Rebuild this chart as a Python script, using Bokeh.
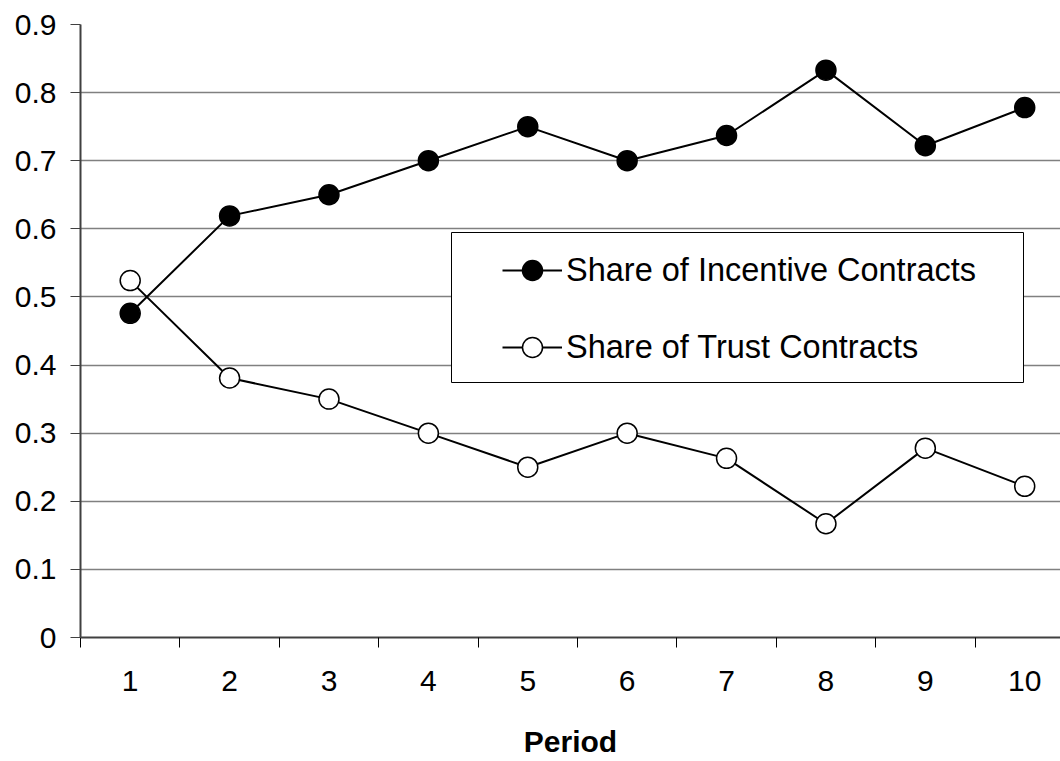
from bokeh.plotting import figure
from bokeh.models import Range1d, FixedTicker, Legend, LegendItem, ColumnDataSource, BoxAnnotation
from bokeh.embed import file_html
from bokeh.resources import INLINE

# ---- data ----
periods = [1, 2, 3, 4, 5, 6, 7, 8, 9, 10]
x_tick_labels = ["1", "2", "3", "4", "5", "6", "7", "8", "9", "10"]
incentive = [0.476, 0.619, 0.650, 0.700, 0.750, 0.700, 0.737, 0.833, 0.722, 0.778]
trust = [0.524, 0.381, 0.350, 0.300, 0.250, 0.300, 0.263, 0.167, 0.278, 0.222]
y_ticks = [0, 0.1, 0.2, 0.3, 0.4, 0.5, 0.6, 0.7, 0.8, 0.9]
y_tick_labels = ["0", "0.1", "0.2", "0.3", "0.4", "0.5", "0.6", "0.7", "0.8", "0.9"]
series_names = ["Share of Incentive Contracts", "Share of Trust Contracts"]
x_title = "Period"

FONT = "Liberation Sans"

src = ColumnDataSource(dict(x=periods, inc=incentive, tru=trust))
category_edges = [p - 0.5 for p in periods]

p = figure(width=1060, height=761,
           x_range=Range1d(0.5, 10.36), y_range=Range1d(0, 0.9),
           output_backend="svg", toolbar_location=None,
           min_border_left=80, min_border_right=0,
           min_border_top=24, min_border_bottom=124)
p.outline_line_color = None
p.background_fill_color = "white"
p.border_fill_color = "white"

# x axis: labels at category centres, tick marks at category boundaries
xa = p.xaxis[0]
xa.ticker = FixedTicker(ticks=periods, minor_ticks=category_edges)
xa.major_label_overrides = {pp: lab for pp, lab in zip(periods, x_tick_labels)}
xa.major_tick_out = 0
xa.major_tick_in = 0
xa.minor_tick_out = 10
xa.minor_tick_in = 0
xa.minor_tick_line_color = "#000000"
xa.minor_tick_line_width = 1
xa.axis_line_color = "#404040"
xa.axis_line_width = 2
xa.major_label_text_font = FONT
xa.major_label_text_font_size = "30px"
xa.major_label_text_color = "black"
xa.major_label_standoff = 23
xa.axis_label = x_title
xa.axis_label_text_font = FONT
xa.axis_label_text_font_size = "30px"
xa.axis_label_text_font_style = "bold"
xa.axis_label_text_color = "black"
xa.axis_label_standoff = 31

ya = p.yaxis[0]
ya.ticker = FixedTicker(ticks=y_ticks)
ya.major_label_overrides = {t: lab for t, lab in zip(y_ticks, y_tick_labels)}
ya.minor_tick_line_color = None
ya.major_tick_out = 10
ya.major_tick_in = 0
ya.major_tick_line_color = "#404040"
ya.axis_line_color = "#404040"
ya.axis_line_width = 2
ya.major_label_text_font = FONT
ya.major_label_text_font_size = "30px"
ya.major_label_text_color = "black"
ya.major_label_standoff = 14

p.xgrid.visible = False
p.ygrid.ticker = FixedTicker(ticks=y_ticks)
p.ygrid.grid_line_color = "#808080"
p.ygrid.grid_line_width = 1.5

# series
l1 = p.line("x", "inc", source=src, line_color="black", line_width=2)
l2 = p.line("x", "tru", source=src, line_color="black", line_width=2)
s1 = p.scatter("x", "inc", source=src, marker="circle", size=20,
               fill_color="black", line_color="black", line_width=1.5)
s2 = p.scatter("x", "tru", source=src, marker="circle", size=20,
               fill_color="white", line_color="black", line_width=1.5)

# legend frame (canvas pixel units)
legend_frame = BoxAnnotation(left=451, right=1023, top=232, bottom=382,
                             left_units="canvas", right_units="canvas",
                             top_units="canvas", bottom_units="canvas",
                             fill_color="white", fill_alpha=1.0,
                             line_color="black", line_width=1, line_alpha=1.0,
                             level="annotation")
p.add_layout(legend_frame)

legend = Legend(items=[LegendItem(label=series_names[0], renderers=[l1, s1]),
                       LegendItem(label=series_names[1], renderers=[l2, s2])],
                location=(422, 265))
legend.label_text_font = FONT
legend.label_text_font_size = "32.5px"
legend.label_text_color = "black"
legend.glyph_width = 60
legend.glyph_height = 50
legend.label_height = 50
legend.label_standoff = 4
legend.spacing = 27
legend.padding = 0
legend.margin = 0
legend.border_line_color = None
legend.background_fill_alpha = 0
p.add_layout(legend, "center")

open("out.html", "w").write(file_html(p, INLINE))
